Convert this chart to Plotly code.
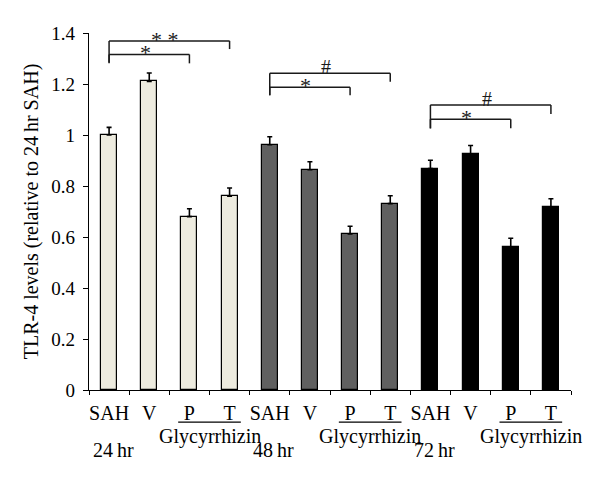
import plotly.graph_objects as go

# ---- data ----
tick_labels = ["SAH", "V", "P", "T", "SAH", "V", "P", "T", "SAH", "V", "P", "T"]
time_groups = ["24\u2009hr", "48\u2009hr", "72\u2009hr"]
values_24 = [1.0, 1.21, 0.68, 0.76]
errors_24 = [0.030, 0.033, 0.031, 0.032]
values_48 = [0.962, 0.864, 0.612, 0.731]
errors_48 = [0.031, 0.031, 0.030, 0.031]
values_72 = [0.868, 0.925, 0.562, 0.716]
errors_72 = [0.033, 0.034, 0.033, 0.034]
group_colors = ["#EDEBDF", "#606060", "#000000"]

# significance brackets: start bar, end bar, bracket height, label
bracket_start = [0, 0, 4, 4, 8, 8]
bracket_end = [3, 2, 7, 6, 11, 10]
bracket_height = [1.369, 1.316, 1.242, 1.187, 1.118, 1.062]
bracket_left_leg = [1.284, 1.281, 1.156, 1.156, 1.026, 1.026]
bracket_right_leg = [1.337, 1.281, 1.209, 1.156, 1.082, 1.026]
bracket_labels = ["* *", "*", "#", "*", "#", "*"]

FONT = "Liberation Serif, Times New Roman, serif"

fig = go.Figure()
groups = [(values_24, errors_24), (values_48, errors_48), (values_72, errors_72)]
for g, (vals, errs) in enumerate(groups):
    xs = [g * 4 + i for i in range(4)]
    fig.add_trace(go.Bar(
        x=xs, y=vals, width=0.4,
        marker=dict(color=group_colors[g], line=dict(color="#000000", width=1.2)),
        error_y=dict(type="data", array=errs, symmetric=False, arrayminus=[0] * 4,
                     color="#000000", thickness=1.6, width=2.5),
        showlegend=False,
    ))

# brackets
for s, e, h, ll, rl, lab in zip(bracket_start, bracket_end, bracket_height,
                                bracket_left_leg, bracket_right_leg, bracket_labels):
    line = dict(color="#1a1a1a", width=1.5)
    fig.add_shape(type="line", x0=s, x1=e, y0=h, y1=h, xref="x", yref="y", line=line)
    fig.add_shape(type="line", x0=s, x1=s, y0=ll, y1=h, xref="x", yref="y", line=line)
    fig.add_shape(type="line", x0=e, x1=e, y0=rl, y1=h, xref="x", yref="y", line=line)
    is_star = "*" in lab
    fig.add_annotation(x=(s + e) / 2 - 0.1, y=h, text=lab, showarrow=False,
                       yanchor="bottom", yshift=-13 if is_star else -7,
                       xref="x", yref="y",
                       font=dict(family=FONT, size=22 if is_star else 20, color="#1a1a1a"))

# Glycyrrhizin underline + label and time labels
for g in range(3):
    p = g * 4 + 2
    t = g * 4 + 3
    fig.add_shape(type="line", x0=p - 0.28, x1=t + 0.28, y0=-0.09, y1=-0.09,
                  xref="x", yref="paper", line=dict(color="#000000", width=1.2))
    fig.add_annotation(x=(p + t) / 2, y=-0.13, text="Glycyrrhizin", showarrow=False,
                       xref="x", yref="paper", yanchor="middle",
                       font=dict(family=FONT, size=20, color="#000000"))
    fig.add_annotation(x=g * 4 + 0.1, y=-0.168, text=time_groups[g], showarrow=False,
                       xref="x", yref="paper", yanchor="middle",
                       font=dict(family=FONT, size=20, color="#000000"))

# the page body has an 8px margin, so the figure is offset by 8px
fig.update_layout(
    width=592, height=476,
    margin=dict(l=81, r=29, t=25, b=94),
    plot_bgcolor="white", paper_bgcolor="white",
    font=dict(family=FONT, size=20, color="#000000"),
    bargap=0,
)
fig.update_xaxes(
    range=[-0.5, 11.5], tickmode="array", tickvals=list(range(12)), ticktext=tick_labels,
    ticks="", showline=True, linecolor="#000000", linewidth=1.2, showgrid=False,
    zeroline=False, ticklabelstandoff=5, automargin=False,
    minor=dict(tickmode="array", tickvals=[i - 0.5 for i in range(13)], ticks="outside",
               ticklen=4, tickcolor="#000000", tickwidth=1.2, showgrid=False),
    tickfont=dict(family=FONT, size=20),
)
fig.update_yaxes(
    range=[0, 1.4], tickmode="array", tickvals=[0, 0.2, 0.4, 0.6, 0.8, 1, 1.2, 1.4],
    ticktext=["0", "0.2", "0.4", "0.6", "0.8", "1", "1.2", "1.4"],
    ticks="outside", ticklen=5, tickcolor="#000000", tickwidth=1.2,
    showline=True, linecolor="#000000", linewidth=1.2, showgrid=False, zeroline=False,
    automargin=False, ticklabelstandoff=4,
    tickfont=dict(family=FONT, size=19),
    title=dict(text="TLR-4 levels (relative to 24\u2009hr SAH)", standoff=7,
               font=dict(family=FONT, size=20)),
)

fig.write_html("out.html")
